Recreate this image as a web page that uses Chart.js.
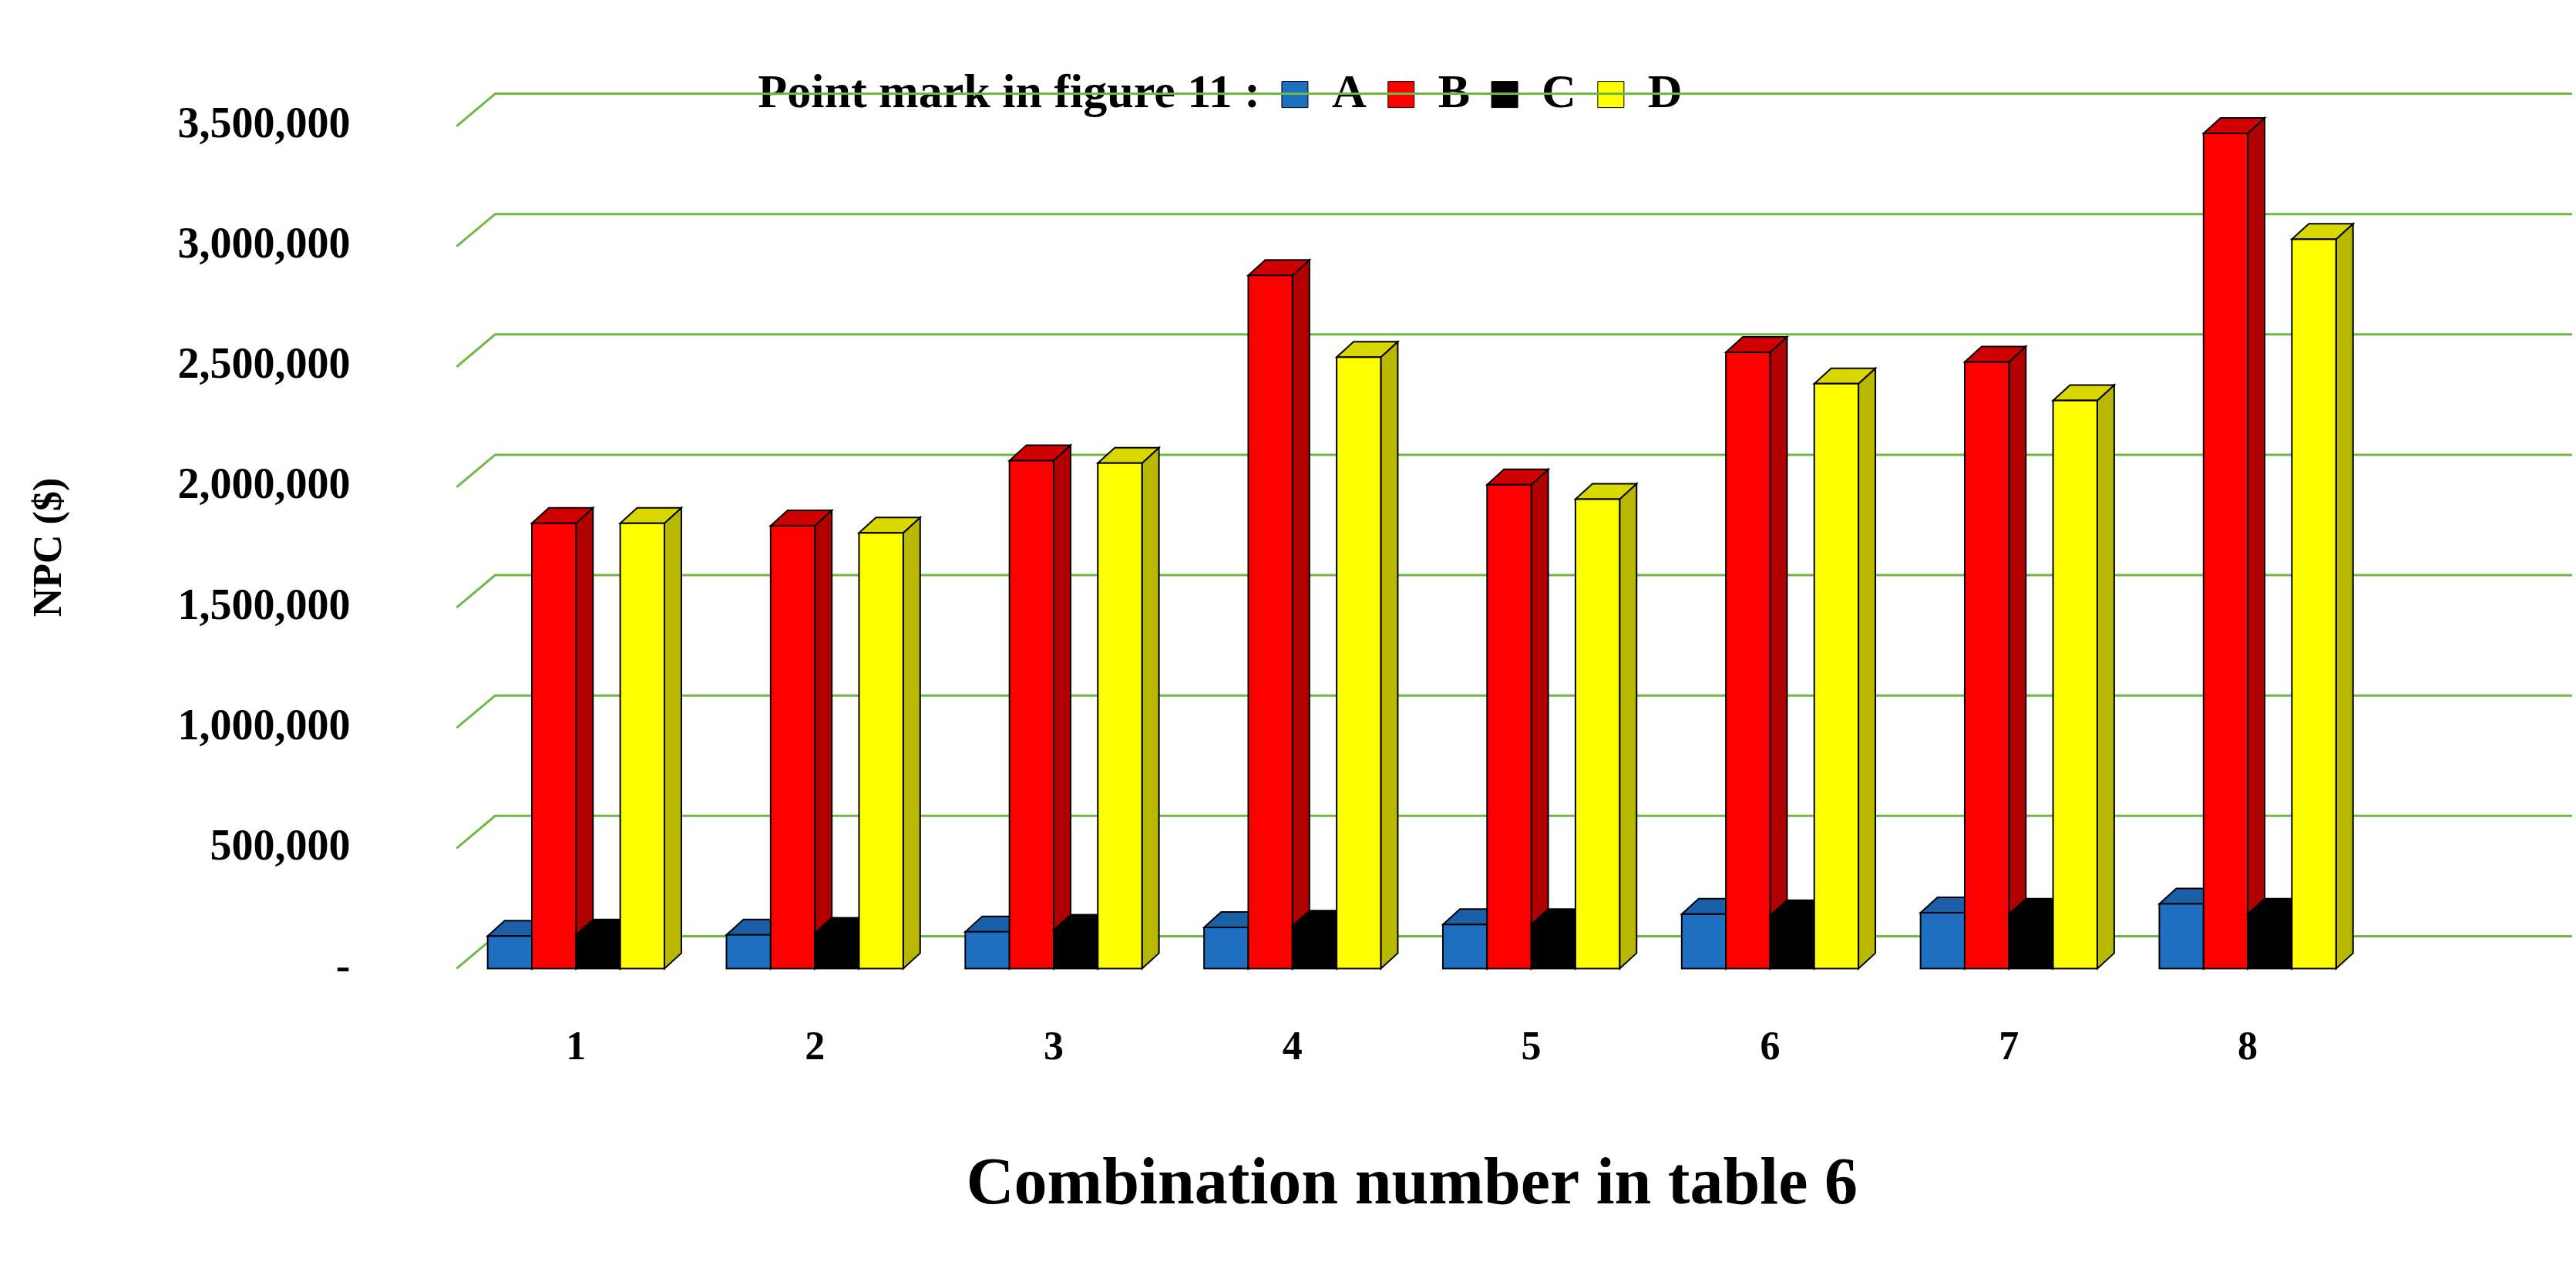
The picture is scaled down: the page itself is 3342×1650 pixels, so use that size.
<!DOCTYPE html>
<html><head><meta charset="utf-8">
<script src="https://cdn.jsdelivr.net/npm/chart.js@4"></script>
<style>html,body{margin:0;padding:0;background:#fff}#w{width:3342px;height:1650px}</style>
</head><body><div id="w"><canvas id="c"></canvas></div>
<script>
const categories=['1','2','3','4','5','6','7','8'];
const seriesA=[135000,140000,153000,171000,183000,226000,232000,269000];
const seriesB=[1850000,1840000,2110000,2880000,2010000,2560000,2520000,3470000];
const seriesC=[140000,147000,160000,177000,183000,220000,226000,226000];
const seriesD=[1850000,1810000,2100000,2540000,1950000,2430000,2360000,3030000];
const seriesNames=['A','B','C','D'];
const colors=['#1f6fc0','#ff0000','#000000','#ffff00'];
const sideColors=['#15508c','#b00000','#000000','#b8b800'];
const topColors=['#1a5fa8','#d00000','#000000','#d8d800'];
const FONT='Liberation Serif';
const DX=22,DY=20,GDX=50,GDY=42;

const fx3d={id:'fx3d',
 beforeDatasetsDraw(ch){
  const {ctx,chartArea:a,scales:{y}}=ch;
  ctx.save();ctx.strokeStyle='#70b844';ctx.lineWidth=3;
  y.ticks.forEach(t=>{const py=y.getPixelForValue(t.value);
   ctx.beginPath();ctx.moveTo(a.left,py);ctx.lineTo(a.left+GDX,py-GDY);ctx.lineTo(ch.width-5,py-GDY);ctx.stroke();});
  ctx.restore();
 },
 afterDatasetsDraw(ch){
  const ctx=ch.ctx;ctx.save();ctx.lineWidth=2;ctx.strokeStyle='#000';
  const n=ch.data.labels.length;
  for(let j=0;j<n;j++){
   ch.data.datasets.forEach((ds,i)=>{
    const b=ch.getDatasetMeta(i).data[j];
    const l=b.x-b.width/2,r=b.x+b.width/2,t=b.y,bs=b.base;
    ctx.fillStyle=sideColors[i];
    ctx.beginPath();ctx.moveTo(r,t);ctx.lineTo(r+DX,t-DY);ctx.lineTo(r+DX,bs-DY);ctx.lineTo(r,bs);ctx.closePath();ctx.fill();ctx.stroke();
    ctx.fillStyle=topColors[i];
    ctx.beginPath();ctx.moveTo(l,t);ctx.lineTo(l+DX,t-DY);ctx.lineTo(r+DX,t-DY);ctx.lineTo(r,t);ctx.closePath();ctx.fill();ctx.stroke();
    ctx.fillStyle=colors[i];ctx.fillRect(l,t,r-l,bs-t);
    ctx.strokeRect(l,t,r-l,bs-t);
   });
  }
  ctx.restore();
 }};

new Chart(document.getElementById('c'),{
 type:'bar',
 data:{labels:categories,datasets:[seriesA,seriesB,seriesC,seriesD].map((d,i)=>({label:seriesNames[i],data:d,backgroundColor:'rgba(0,0,0,0)',borderWidth:0,categoryPercentage:0.74,barPercentage:1}))},
 options:{responsive:true,maintainAspectRatio:false,animation:false,
  layout:{padding:{left:30,right:271,top:15,bottom:60}},
  plugins:{tooltip:{enabled:false},
   legend:{position:'top',labels:{font:{family:FONT,size:62,weight:'bold'},color:'#000',boxWidth:34,boxHeight:34,padding:28,
    generateLabels(ch){const arr=[{text:'Point mark in figure 11 :',fillStyle:'rgba(0,0,0,0)',strokeStyle:'rgba(0,0,0,0)',lineWidth:0,datasetIndex:-1}];
     seriesNames.forEach((n,i)=>arr.push({text:n,fillStyle:colors[i],strokeStyle:'#000',lineWidth:1,datasetIndex:i}));return arr;}},
    onClick(){} }},
  scales:{
   x:{grid:{display:false},border:{display:false},ticks:{font:{family:FONT,size:52,weight:'bold'},color:'#000',padding:65},
      title:{display:true,text:'Combination number in table 6',font:{family:FONT,size:86,weight:'bold'},color:'#000',padding:{top:30,bottom:0}}},
   y:{min:0,max:3500000,grid:{display:false},border:{display:false},
      ticks:{stepSize:500000,font:{family:FONT,size:56,weight:'bold'},color:'#000',padding:130,
       callback:v=>v===0?'-':v.toLocaleString('en-US')},
      title:{display:true,text:'NPC ($)',font:{family:FONT,size:52,weight:'bold'},color:'#000'}}
  }},
 plugins:[fx3d]
});
</script></body></html>
